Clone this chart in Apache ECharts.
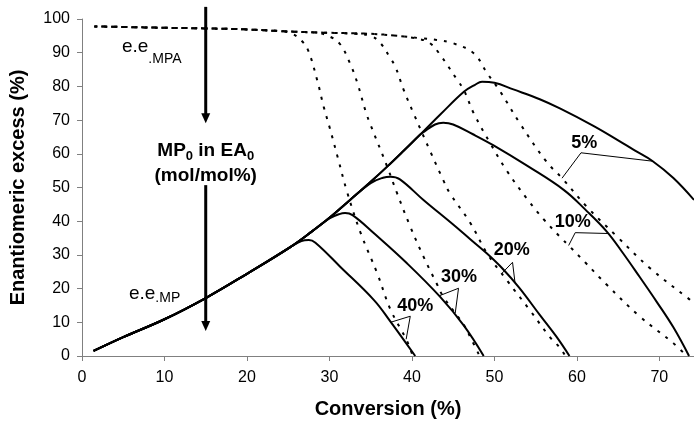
<!DOCTYPE html>
<html>
<head>
<meta charset="utf-8">
<script src="https://cdn.jsdelivr.net/npm/echarts@6/dist/echarts.min.js"></script>
<style>
  html, body { margin: 0; padding: 0; background: #fff; }
  #chart { width: 694px; height: 428px; }
</style>
</head>
<body>
<div id="chart"></div>
<script>
// Axis ticks
const xTicks = [0, 10, 20, 30, 40, 50, 60, 70];
const yTicks = [0, 10, 20, 30, 40, 50, 60, 70, 80, 90, 100];

// MP loadings in EA (mol/mol%)
const loadings = ['5%', '10%', '20%', '30%', '40%'];

// e.e. of MP: shared rising part (conversion %, e.e. %)
const riseX = [1.4, 5, 10, 15, 20, 25.3, 28, 30, 32.5, 35, 37, 39, 41, 43.5, 46.3];
const riseY = [1.5, 5.6, 10.9, 17.2, 24.4, 32.4, 37.2, 41.0, 46.3, 51.7, 56.2, 60.9, 65.7, 71.8, 78.4];

// e.e. of MP: branch of each loading after it leaves the shared part
const mp5X  = [47.6, 48.5, 50, 52.3, 55.5, 58, 62, 65, 67, 69.2, 71.7, 74.2];
const mp5Y  = [80.4, 81.4, 81.1, 79.1, 76.2, 73.4, 68.3, 64.0, 61.0, 57.8, 52.8, 46.3];
const mp10X = [41.4, 42.8, 43.8, 45, 47.4, 49.9, 54, 58.4, 61, 63.6, 65.6, 67.6, 69.7, 71.7, 73.6];
const mp10Y = [66.4, 68.7, 69.2, 68.7, 65.8, 62.5, 56.4, 49.3, 43.5, 37, 30.5, 23.5, 16, 8.5, 0];
const mp20X = [35, 36.5, 37.4, 38.5, 41.4, 45, 47, 49.1, 51, 53, 55.5, 57.5, 59.1];
const mp20Y = [51.3, 52.9, 53.2, 52.5, 46.3, 39, 34.8, 30.4, 25.9, 20.3, 12.2, 5.8, 0];
const mp30X = [30, 31.2, 31.9, 32.8, 35.4, 39.4, 43.4, 46.3, 48.7];
const mp30Y = [40.8, 42.1, 42.4, 41.8, 36.4, 27.5, 17.6, 9, 0];
const mp40X = [26.6, 27.5, 28.3, 31.3, 35.4, 37.4, 40.4];
const mp40Y = [34.1, 34.4, 33.6, 26.5, 16.6, 10.2, 0];

// e.e. of MPA: shared plateau, then the fall of each loading
const plateauX = [1.5, 10, 15, 20, 24];
const plateauY = [97.8, 97.4, 97.2, 96.9, 96.4];
const mpa5X  = [26, 30, 35, 38.2, 41, 43, 45, 47.5, 49.1, 50.7, 53.1, 56.3, 58.3, 61.2, 64.8, 68.9, 73.5, 74.2];
const mpa5Y  = [96.2, 95.9, 95.6, 95, 94.3, 93.8, 92.8, 89.8, 84, 78.5, 69, 57.7, 52.5, 44.3, 35.6, 26, 17.1, 15.8];
const mpa10X = [26, 30, 35, 38.2, 41, 42.2, 43.3, 45.5, 46.3, 47.5, 49.5, 51.5, 54, 56, 57.9, 59.2, 61, 63.6, 67.6, 71.7, 73.3];
const mpa10Y = [96.2, 95.9, 95.6, 95, 94, 92.8, 89.8, 81.9, 78.9, 72, 63.1, 55, 46.5, 40.5, 35.5, 32.3, 27.8, 21.2, 11.8, 3.8, 0];
const mpa20X = [26, 30, 33, 35, 36.2, 37.4, 38, 39, 40.2, 42.3, 43.8, 44.6, 47.1, 49.1, 51.5, 54.3, 56.7, 58, 58.6];
const mpa20Y = [96.2, 95.9, 95.6, 95, 92.8, 88.3, 85.8, 79, 72, 60.3, 52.2, 48.3, 39.4, 30.5, 22.5, 13.6, 5.7, 2.3, 0];
const mpa30X = [26, 28.5, 30.1, 31.3, 32.5, 33.4, 34.4, 35, 37, 38.2, 39.8, 41.4, 43, 43.8, 46.3, 47.1, 48.2];
const mpa30Y = [96.2, 95.9, 94.7, 92.5, 86.8, 80.9, 72.5, 68.5, 56.2, 48.3, 38.4, 29.5, 21.5, 17.6, 9.2, 5.5, 0];
const mpa40X = [25.5, 26.6, 27.4, 28.5, 29.3, 30, 31, 32.1, 33.8, 35.8, 37.4, 39.4, 40.1];
const mpa40Y = [95.6, 93.6, 90.8, 82, 74, 68, 59, 49, 36.4, 24.5, 13.8, 4.5, 0];

const mpBranches  = [[mp5X, mp5Y], [mp10X, mp10Y], [mp20X, mp20Y], [mp30X, mp30Y], [mp40X, mp40Y]];
const mpaBranches = [[mpa5X, mpa5Y], [mpa10X, mpa10Y], [mpa20X, mpa20Y], [mpa30X, mpa30Y], [mpa40X, mpa40Y]];

const FONT = '"Liberation Sans", Arial, sans-serif';
const X_MAX = 74.2;

function pairs(xs, ys) { return xs.map((x, i) => [x, ys[i]]); }

// Shared part up to where the branch starts, then the branch
function joined(baseX, baseY, bx, by) {
  const start = bx[0];
  const head = pairs(baseX, baseY).filter(p => p[0] < start);
  return head.concat(pairs(bx, by));
}

function interp(data, x) {
  for (let i = 1; i < data.length; i++) {
    const a = data[i - 1], b = data[i];
    if (x >= a[0] && x <= b[0]) {
      return a[1] + (b[1] - a[1]) * (x - a[0]) / (b[0] - a[0]);
    }
  }
  return data[data.length - 1][1];
}

const mpData  = mpBranches.map(([bx, by]) => joined(riseX, riseY, bx, by));
const mpaData = mpaBranches.map(([bx, by]) => joined(plateauX, plateauY, bx, by));

const series = [];
loadings.forEach((name, i) => {
  series.push({
    name: 'e.e.MP ' + name,
    type: 'line',
    data: mpData[i],
    showSymbol: false,
    smooth: 0.4,
    lineStyle: { color: '#000', width: 2 },
    silent: true,
    z: 3
  });
  series.push({
    name: 'e.e.MPA ' + name,
    type: 'line',
    data: mpaData[i],
    showSymbol: false,
    smooth: 0.4,
    lineStyle: { color: '#000', width: 2, type: [3, 7], dashOffset: (i % 2) * 3 },
    silent: true,
    z: 2
  });
});

const axisGray = '#808080';

const option = {
  animation: false,
  backgroundColor: '#fff',
  grid: { left: 81, right: 0, top: 19, bottom: 72, containLabel: false },
  xAxis: {
    type: 'value',
    min: 0,
    max: X_MAX,
    interval: 10,
    name: 'Conversion (%)',
    nameLocation: 'middle',
    nameGap: 43,
    nameTextStyle: { fontFamily: FONT, fontSize: 20, fontWeight: 'bold', color: '#000' },
    axisLine: { show: true, lineStyle: { color: axisGray, width: 1 } },
    axisTick: { show: true, length: 5, customValues: xTicks, lineStyle: { color: axisGray } },
    axisLabel: { customValues: xTicks, margin: 14, fontFamily: FONT, fontSize: 16, color: '#000' },
    splitLine: { show: false }
  },
  yAxis: {
    type: 'value',
    min: 0,
    max: 100,
    interval: 10,
    name: 'Enantiomeric excess (%)',
    nameLocation: 'middle',
    nameGap: 54,
    nameTextStyle: { fontFamily: FONT, fontSize: 20, fontWeight: 'bold', color: '#000' },
    axisLine: { show: true, lineStyle: { color: axisGray, width: 1 } },
    axisTick: { show: true, length: 5, customValues: yTicks, lineStyle: { color: axisGray } },
    axisLabel: { customValues: yTicks, margin: 12, fontFamily: FONT, fontSize: 16, color: '#000' },
    splitLine: { show: false }
  },
  series: series
};

const chart = echarts.init(document.getElementById('chart'), null, { renderer: 'canvas' });
chart.setOption(option);

const toPx = p => chart.convertToPixel({ gridIndex: 0 }, p);

// Loading labels with leaders to the MP and MPA curves
const leaderLabels = [
  { idx: 0, at: [60.9, 63.2], knee: [60.5, 60.3], solidAt: 69.2, dashedAt: 58.2 },
  { idx: 1, at: [59.5, 39.9], knee: [59.8, 36.6], solidAt: 63.8, dashedAt: 59.0 },
  { idx: 2, at: [52.1, 31.5], knee: [52.2, 27.8], solidAt: 52.5, dashedAt: 50.9 },
  { idx: 3, at: [45.7, 23.3], knee: [45.65, 20.1], solidAt: 43.3, dashedAt: 45.25 },
  { idx: 4, at: [40.4, 14.8], knee: [39.8, 11.8], solidAt: 37.45, dashedAt: 39.3 }
];

const graphics = [];

leaderLabels.forEach(l => {
  const c = toPx(l.at);
  graphics.push({
    type: 'text', x: c[0], y: c[1], silent: true,
    style: { text: loadings[l.idx], font: 'bold 18px ' + FONT, fill: '#000', align: 'center', verticalAlign: 'middle' }
  });
  const s = toPx([l.solidAt, interp(mpData[l.idx], l.solidAt)]);
  const k = toPx(l.knee);
  const d = toPx([l.dashedAt, interp(mpaData[l.idx], l.dashedAt)]);
  graphics.push({
    type: 'polyline', silent: true,
    shape: { points: [s, k, d] },
    style: { stroke: '#000', lineWidth: 1, fill: null }
  });
});

// Curve names with subscripts
function subLabel(main, sub, anchor, subDy) {
  const p = toPx(anchor);
  const mainFont = '19px ' + FONT;
  const subFont = '14px ' + FONT;
  const w = echarts.format.getTextRect ? echarts.format.getTextRect(main, mainFont).width : main.length * 9;
  graphics.push({
    type: 'text', x: p[0], y: p[1], silent: true,
    style: { text: main, font: mainFont, fill: '#000', align: 'left', verticalAlign: 'middle' }
  });
  graphics.push({
    type: 'text', x: p[0] + w, y: p[1] + subDy, silent: true,
    style: { text: sub, font: subFont, fill: '#000', align: 'left', verticalAlign: 'middle' }
  });
}
subLabel('e.e', '.MPA', [4.84, 91.9], 13);
subLabel('e.e', '.MP', [5.69, 18.6], 5);

// Arrow showing the direction of increasing MP loading
function arrow(from, to) {
  const a = toPx(from), b = toPx(to);
  const head = 10, half = 4.5;
  graphics.push({
    type: 'line', silent: true,
    shape: { x1: a[0], y1: a[1], x2: b[0], y2: b[1] - head + 1 },
    style: { stroke: '#000', lineWidth: 3 }
  });
  graphics.push({
    type: 'polygon', silent: true,
    shape: { points: [[b[0] - half, b[1] - head], [b[0] + half, b[1] - head], [b[0], b[1]]] },
    style: { fill: '#000' }
  });
}
arrow([15, 103.6], [15, 69.1]);
arrow([15, 50.7], [15, 7.4]);

// Loading caption between the arrows
(function () {
  const p = toPx([15, 60.5]);
  graphics.push({
    type: 'text', x: p[0], y: p[1], silent: true,
    style: {
      text: '{b|MP}{s|0}{b| in EA}{s|0}',
      align: 'center', verticalAlign: 'middle',
      rich: {
        b: { fontFamily: FONT, fontSize: 19, fontWeight: 'bold', fill: '#000', lineHeight: 22, verticalAlign: 'top' },
        s: { fontFamily: FONT, fontSize: 13, fontWeight: 'bold', fill: '#000', lineHeight: 15, verticalAlign: 'bottom' }
      }
    }
  });
  const q = toPx([15, 53.4]);
  graphics.push({
    type: 'text', x: q[0], y: q[1], silent: true,
    style: { text: '(mol/mol%)', font: 'bold 19px ' + FONT, fill: '#000', align: 'center', verticalAlign: 'middle' }
  });
})();

chart.setOption({ graphic: graphics });
</script>
</body>
</html>
